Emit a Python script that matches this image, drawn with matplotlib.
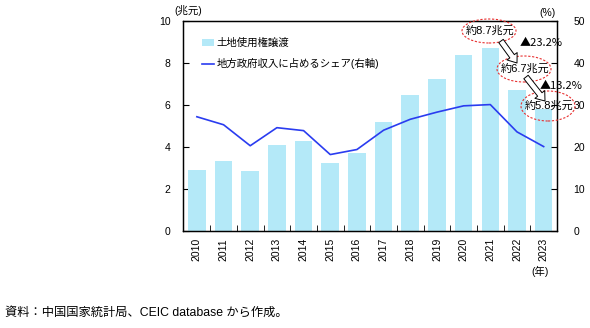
import numpy as np
import matplotlib.pyplot as plt
from matplotlib.patches import Ellipse, FancyArrowPatch

plt.rcParams['font.family'] = ['Liberation Sans', 'Noto Sans CJK JP']
plt.rcParams['font.size'] = 7.5

years = [str(y) for y in range(2010, 2024)]
land_sales = [2.91, 3.33, 2.86, 4.10, 4.28, 3.24, 3.73, 5.19, 6.50, 7.25, 8.40, 8.70, 6.70, 5.80]
share = [27.2, 25.3, 20.3, 24.6, 23.9, 18.2, 19.4, 24.0, 26.6, 28.3, 29.8, 30.1, 23.6, 20.1]

W, H = 590, 328


def px(x, y):
    # 像素坐标 -> figure 坐标
    return (x / W, 1 - y / H)


fig = plt.figure(figsize=(W / 100, H / 100), dpi=100)
ax = fig.add_axes([183 / W, 1 - 231 / H, (557 - 183) / W, (231 - 21) / H])
ax2 = ax.twinx()

x = np.arange(len(years))
ax.bar(x, land_sales, width=0.66, color='#b4e9f8', label='土地使用権譲渡', zorder=2)
ax2.plot(x, share, color='#2a3cf0', linewidth=1.2, label='地方政府収入に占めるシェア(右軸)')

ax.set_xlim(-0.52, 13.5)
ax.set_ylim(0, 10)
ax2.set_ylim(0, 50)
ax.set_yticks([0, 2, 4, 6, 8, 10])
ax2.set_yticks([0, 10, 20, 30, 40, 50])
ax.set_xticks(x)
ax.set_xticklabels(years, rotation=90)
ax.set_xticks(np.arange(0.5, 13, 1), minor=True)
ax.tick_params(axis='x', which='major', length=0, pad=5)
ax.tick_params(axis='x', which='minor', length=4, direction='in')
ax.tick_params(axis='y', length=4, direction='in', pad=9)
ax2.tick_params(axis='y', length=4, direction='in', pad=12)
for a in (ax, ax2):
    for s in a.spines.values():
        s.set_linewidth(0.9)

h1, l1 = ax.get_legend_handles_labels()
h2, l2 = ax2.get_legend_handles_labels()
ax.legend(h1 + h2, l1 + l2, loc='upper left', bbox_to_anchor=(0.025, 0.965),
          frameon=False, handlelength=1.2, handletextpad=0.2, labelspacing=1.0,
          fontsize=7.5)

fig.text(*px(188, 10), '(兆元)', ha='center', va='center')
fig.text(*px(548, 13), '(%)', ha='center', va='center')
fig.text(*px(540, 271), '(年)', ha='center', va='center')
fig.text(*px(5, 313), '資料：中国国家統計局、CEIC database から作成。', ha='left', va='center',
         fontsize=8.8)

# 注释：椭圆 + 箭头
ells = [((489, 31), '約8.7兆元', 24), ((524, 69), '約6.7兆元', 26), ((548, 106), '約5.8兆元', 30)]
for (cx, cy), txt, h in ells:
    e = Ellipse(px(cx, cy), 54 / W, h / H, transform=fig.transFigure, fill=False,
                edgecolor='#e83030', linestyle=(0, (2, 1.5)), linewidth=0.8, clip_on=False)
    fig.add_artist(e)
    fig.text(*px(cx + 1, cy), txt, ha='center', va='center', fontsize=8)

arrows = [((501, 41), (517, 63)), ((526, 77), (545, 101))]
for start, end in arrows:
    fig.add_artist(FancyArrowPatch(
        px(*start), px(*end), transform=fig.transFigure,
        arrowstyle='simple,head_length=6,head_width=9,tail_width=4',
        shrinkA=0, shrinkB=0,
        facecolor='white', edgecolor='black', linewidth=0.7))

cjk = ['Noto Sans CJK JP', 'Liberation Sans']
fig.text(*px(520, 43), '▲23.2%', ha='left', va='center', fontsize=8, family=cjk)
fig.text(*px(540, 86), '▲13.2%', ha='left', va='center', fontsize=8, family=cjk)

fig.savefig('out.png', dpi=100)
